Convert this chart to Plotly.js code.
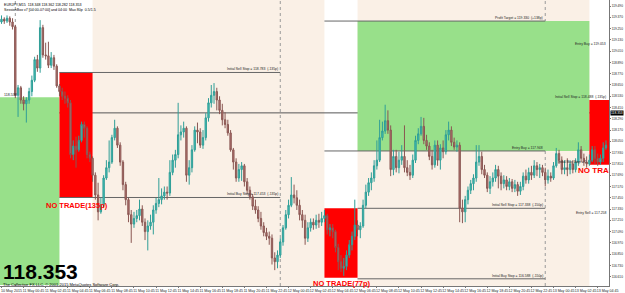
<!DOCTYPE html>
<html><head><meta charset="utf-8">
<script src="https://cdn.plot.ly/plotly-3.0.1.min.js"></script>
<style>html,body{margin:0;padding:0;background:#fff}#c{width:625px;height:293px}</style>
</head><body><div id="c"></div>
<script>
// EURJPY M15 bars, 10 May 22:45 -> 13 May 05:30 (bar index 0..219)
const open = [
119.32,119.35,119.33,119.36,119.32,119.27,118.54,118.62,118.49,118.45,
118.49,118.58,118.70,118.92,118.83,119.26,118.97,118.96,118.86,118.94,
118.85,118.64,118.58,118.53,118.51,118.46,117.91,118.00,117.96,118.06,
118.23,118.19,117.91,117.87,117.69,117.48,117.30,117.37,117.66,117.77,
117.83,118.09,118.19,118.01,117.83,117.59,117.43,117.27,117.17,117.23,
117.26,117.33,117.19,117.09,117.15,117.19,117.32,117.39,117.43,117.47,
117.51,117.50,117.72,117.85,117.91,118.12,118.15,118.19,117.69,117.77,
117.96,118.17,118.15,118.01,118.09,118.30,118.46,118.54,118.58,118.49,
118.38,118.28,118.23,118.14,117.96,117.83,117.66,117.75,117.79,117.62,
117.53,117.46,117.36,117.32,117.23,117.15,117.08,117.04,117.02,116.81,
116.77,116.84,116.98,117.13,117.27,117.37,117.48,117.45,117.37,117.27,
117.21,117.02,117.13,117.19,117.16,117.21,117.19,117.23,117.26,117.11,
117.13,117.09,116.92,116.77,116.70,116.72,116.84,116.95,117.04,117.16,
117.11,117.15,117.37,117.51,117.61,117.66,117.79,117.85,118.09,118.16,
118.27,118.17,117.75,117.89,117.77,117.85,117.89,117.77,117.72,117.69,
117.85,118.06,118.13,118.21,118.06,118.00,117.89,117.80,118.01,117.85,
117.98,117.94,118.12,118.17,118.04,117.99,118.01,117.34,117.30,117.43,
117.53,117.60,117.66,117.83,117.89,117.75,117.69,117.55,117.62,117.66,
117.75,117.68,117.60,117.64,117.57,117.62,117.55,117.59,117.52,117.57,
117.68,117.64,117.72,117.69,117.79,117.75,117.77,117.72,117.64,117.68,
117.66,117.79,117.92,117.85,117.75,117.77,117.75,117.81,117.75,117.83,
117.96,117.87,117.83,117.81,117.85,117.96,117.87,117.83,117.87,117.98];
const high = [
119.39,119.37,119.39,119.38,119.36,119.29,118.65,118.64,118.53,118.52,
118.62,118.75,118.95,118.97,119.34,119.29,119.10,119.11,119.00,118.97,
118.87,118.66,118.62,118.58,118.54,118.49,118.06,118.10,118.11,118.26,
118.26,118.21,117.94,117.89,117.72,117.61,117.45,117.69,117.85,118.06,
118.12,118.28,118.21,118.04,117.85,117.62,117.45,117.32,117.30,117.32,
117.43,117.37,117.23,117.21,117.27,117.37,117.45,117.66,117.55,117.57,
117.57,117.85,117.91,117.96,118.46,118.22,118.26,118.21,117.85,118.01,
118.21,118.25,118.19,118.17,118.35,118.51,118.65,118.67,118.62,118.53,
118.45,118.36,118.28,118.17,117.98,117.87,117.81,117.83,117.81,117.66,
117.57,117.49,117.43,117.36,117.30,117.19,117.13,117.09,117.06,116.87,
116.89,117.02,117.16,117.32,117.43,117.67,117.59,117.53,117.43,117.32,
117.27,117.19,117.23,117.23,117.27,117.28,117.30,117.32,117.28,117.17,
117.17,117.11,116.96,116.84,116.81,116.89,117.00,117.09,117.43,117.21,
117.19,117.43,117.59,117.66,117.72,117.85,118.06,118.28,118.26,118.44,
118.38,118.22,117.96,117.96,117.94,118.01,118.22,117.85,117.80,117.91,
118.11,118.19,118.31,118.30,118.12,118.04,117.96,118.06,118.06,118.02,
118.06,118.17,118.26,118.21,118.09,118.06,118.04,117.43,117.47,117.57,
117.64,117.70,118.01,118.01,117.94,117.80,117.72,117.68,117.72,117.80,
117.79,117.72,117.69,117.68,117.66,117.65,117.64,117.62,117.62,117.72,
117.75,117.77,117.79,117.85,117.83,117.81,117.80,117.77,117.75,117.72,
117.83,117.98,117.96,117.89,117.85,117.87,117.85,117.85,117.87,118.04,
118.00,117.92,117.89,117.91,118.00,118.00,117.92,117.91,118.04,118.06];
const low = [
119.30,119.30,119.31,119.28,119.24,118.51,118.31,118.45,118.38,118.25,
118.45,118.53,118.68,118.79,118.78,118.94,118.92,118.83,118.83,118.81,
118.62,118.53,118.49,118.45,118.41,117.87,117.85,117.77,117.94,118.04,
118.09,117.87,117.83,117.62,117.43,117.21,117.28,117.34,117.64,117.72,
117.81,118.06,117.98,117.79,117.53,117.37,117.19,116.97,117.13,117.19,
117.21,117.15,117.00,116.89,117.11,117.06,117.28,117.35,117.38,117.43,
117.43,117.47,117.69,117.77,117.87,118.06,118.09,117.62,117.59,117.72,
117.94,118.03,117.98,117.97,118.06,118.26,118.41,118.45,118.38,118.34,
118.22,118.19,118.11,117.94,117.75,117.62,117.62,117.63,117.57,117.49,
117.43,117.32,117.28,117.19,117.11,117.04,117.00,116.95,116.74,116.68,
116.70,116.81,116.94,117.11,117.23,117.35,117.39,117.32,117.21,117.13,
116.95,116.98,117.09,117.11,117.12,117.13,117.15,117.19,117.06,117.04,
117.02,116.87,116.68,116.66,116.62,116.68,116.81,116.89,117.00,117.04,
117.02,117.13,117.34,117.47,117.53,117.62,117.75,117.83,118.06,118.13,
118.13,117.68,117.69,117.72,117.71,117.80,117.72,117.68,117.64,117.66,
117.82,118.02,118.11,118.02,117.96,117.85,117.75,117.77,117.79,117.75,
117.87,117.91,118.06,118.00,117.96,117.94,117.19,117.18,117.19,117.38,
117.49,117.53,117.62,117.79,117.70,117.66,117.51,117.49,117.57,117.62,
117.55,117.53,117.55,117.53,117.53,117.51,117.51,117.47,117.48,117.53,
117.60,117.60,117.64,117.66,117.68,117.66,117.68,117.57,117.60,117.62,
117.64,117.77,117.81,117.70,117.70,117.68,117.70,117.71,117.72,117.79,
117.83,117.79,117.77,117.79,117.83,117.81,117.79,117.80,117.83,117.96];
const close = [
119.35,119.33,119.36,119.32,119.27,118.54,118.62,118.49,118.45,118.49,
118.58,118.70,118.92,118.83,119.26,118.97,118.96,118.86,118.94,118.85,
118.64,118.58,118.53,118.51,118.46,117.91,118.00,117.96,118.06,118.23,
118.19,117.91,117.87,117.69,117.48,117.30,117.37,117.66,117.77,117.83,
118.09,118.19,118.01,117.83,117.59,117.43,117.27,117.17,117.23,117.26,
117.33,117.19,117.09,117.15,117.19,117.32,117.39,117.43,117.47,117.51,
117.50,117.72,117.85,117.91,118.12,118.15,118.19,117.69,117.77,117.96,
118.17,118.15,118.01,118.09,118.30,118.46,118.54,118.58,118.49,118.38,
118.28,118.23,118.14,117.96,117.83,117.66,117.75,117.79,117.62,117.53,
117.46,117.36,117.32,117.23,117.15,117.08,117.04,117.02,116.81,116.77,
116.84,116.98,117.13,117.27,117.37,117.48,117.45,117.37,117.27,117.21,
117.02,117.13,117.19,117.16,117.21,117.19,117.23,117.26,117.11,117.13,
117.09,116.92,116.77,116.70,116.72,116.84,116.95,117.04,117.16,117.11,
117.15,117.37,117.51,117.61,117.66,117.79,117.85,118.09,118.16,118.27,
118.17,117.75,117.89,117.77,117.85,117.89,117.77,117.72,117.69,117.85,
118.06,118.13,118.21,118.06,118.00,117.89,117.80,118.01,117.85,117.98,
117.94,118.12,118.17,118.04,117.99,118.01,117.34,117.30,117.43,117.53,
117.60,117.66,117.83,117.89,117.75,117.69,117.55,117.62,117.66,117.75,
117.68,117.60,117.64,117.57,117.62,117.55,117.59,117.52,117.57,117.68,
117.64,117.72,117.69,117.79,117.75,117.77,117.72,117.64,117.68,117.66,
117.79,117.92,117.85,117.75,117.77,117.75,117.81,117.75,117.83,117.96,
117.87,117.83,117.81,117.85,117.96,117.87,117.83,117.87,117.98,118.01];

// time-axis labels (bar index -> text)
const timeTickIdx = [0,8,16,24,32,40,48,56,64,72,80,88,96,104,112,120,128,136,144,152,160,168,176,184,192,200,208,216];
const timeTickText = ["10 May 2015","11 May 00:45","11 May 02:45","11 May 04:45","11 May 06:45","11 May 08:45","11 May 10:45",
 "11 May 12:45","11 May 14:45","11 May 16:45","11 May 18:45","11 May 20:45","11 May 22:45","12 May 00:45","12 May 02:45",
 "12 May 04:45","12 May 06:45","12 May 08:45","12 May 10:45","12 May 12:45","12 May 14:45","12 May 16:45","12 May 18:45",
 "12 May 20:45","12 May 22:45","13 May 00:45","13 May 02:45","13 May 04:45"];
const priceTicks = [116.49,116.61,116.73,116.85,116.97,117.09,117.21,117.33,117.45,117.57,117.69,117.81,117.93,
 118.05,118.17,118.29,118.41,118.53,118.65,118.77,118.89,119.01,119.13,119.25,119.37,119.49];

// day separators and session boxes (bar index)
const daySeparators = [5,101,197];
const sessions = [[33,117],[129,213]];
const bidPrice = 118.353;
// range / trade levels
const box1 = {x:[21,33], y:[117.453,118.783]};
const box2 = {x:[117,129], y:[116.600,117.338]};
const box3 = {x:[213,222], y:[117.800,118.490]};
const greenLeft = {x:[-2,21], y:[116.522,118.520]};
const greenMid = {x:[129,213], y:[117.948,119.330]};
const levelLines = [
  {y:118.783, x:[21,101], text:"Initial Sell Stop = 118.783  (-135p)"},
  {y:117.453, x:[21,101], text:"Initial Buy Stop = 117.453  (-135p)"},
  {y:119.330, x:[117,197], text:"Profit Target = 119.330  (+138p)"},
  {y:117.948, x:[117,197], text:"Entry Buy = 117.948"},
  {y:117.338, x:[129,197], text:"Initial Sell Stop = 117.338  (-150p)"},
  {y:116.588, x:[129,197], text:"Initial Buy Stop = 116.588  (-150p)"}
];
const rightLabels = [
  {y:119.054, text:"Entry Buy = 119.053"},
  {y:118.490, text:"Initial Sell Stop = 118.488  (-135p)"},
  {y:117.256, text:"Entry Sell = 117.258"}
];

const shapes = [];
sessions.forEach(s=>shapes.push({type:'rect',xref:'x',yref:'paper',x0:s[0],x1:s[1],y0:0,y1:1,fillcolor:'#FAF0E6',line:{width:0},layer:'below'}));
[greenLeft,greenMid].forEach(b=>shapes.push({type:'rect',xref:'x',yref:'y',x0:b.x[0],x1:b.x[1],y0:b.y[0],y1:b.y[1],fillcolor:'#98E08A',line:{width:0},layer:'below'}));
[box1,box2,box3].forEach(b=>shapes.push({type:'rect',xref:'x',yref:'y',x0:b.x[0],x1:b.x[1],y0:b.y[0],y1:b.y[1],fillcolor:'#FF0000',line:{width:0},layer:'below'}));
daySeparators.forEach(d=>shapes.push({type:'line',xref:'x',yref:'paper',x0:d,x1:d,y0:0,y1:1,line:{color:'#9a9a9a',width:1,dash:'dot'},layer:'below'}));
levelLines.forEach(l=>shapes.push({type:'line',xref:'x',yref:'y',x0:l.x[0],x1:l.x[1],y0:l.y,y1:l.y,line:{color:'#666',width:1},layer:'below'}));
shapes.push({type:'line',xref:'paper',yref:'y',x0:0,x1:1,y0:bidPrice,y1:bidPrice,line:{color:'#555',width:1},layer:'below'});

const F = 'Liberation Sans, Arial, sans-serif';
const ann = [];
levelLines.forEach(l=>ann.push({x:l.x[1],y:l.y,xref:'x',yref:'y',text:l.text,showarrow:false,xanchor:'right',yanchor:'bottom',yshift:-1,font:{family:F,size:3.4,color:'#222'}}));
rightLabels.forEach(l=>ann.push({x:219.6,y:l.y,xref:'x',yref:'y',text:l.text,showarrow:false,xanchor:'right',yanchor:'bottom',yshift:-1,font:{family:F,size:3.4,color:'#222'}}));
ann.push({x:212.5,y:117.80,xref:'x',yref:'y',text:'Initial Buy Stop = 1',showarrow:false,xanchor:'right',yanchor:'bottom',yshift:-1,font:{family:F,size:3.4,color:'#222'}});
ann.push({x:0,y:118.54,xref:'x',yref:'y',text:'118.538',showarrow:false,xanchor:'left',yanchor:'middle',font:{family:F,size:3.6,color:'#222'}});
ann.push({x:27.2,y:117.37,xref:'x',yref:'y',text:'NO TRADE(135p)',showarrow:false,xanchor:'center',yanchor:'middle',font:{family:F,size:7.5,color:'#FF0000',weight:700}});
ann.push({x:123.4,y:116.54,xref:'x',yref:'y',text:'NO TRADE(77p)',showarrow:false,xanchor:'center',yanchor:'middle',font:{family:F,size:7.5,color:'#FF0000',weight:700}});
ann.push({x:0,y:116.67,xref:'paper',yref:'y',xshift:1,text:'118.353',showarrow:false,xanchor:'left',yanchor:'middle',font:{family:F,size:21,color:'#000',weight:700}});
ann.push({x:0,y:116.528,xref:'paper',yref:'y',xshift:1,text:'The Collective FX LLC, © 2001-2015 MetaQuotes Software Corp.',showarrow:false,xanchor:'left',yanchor:'middle',font:{family:F,size:4,color:'#000'}});
ann.push({x:0,y:1,xref:'paper',yref:'paper',xshift:2,yshift:-1,text:'EURJPY,M15  118.348 118.362 118.282 118.353<br>SessionBox v7 [04:00-07:00] and 04:00  Max 80p  0.5/1.5',showarrow:false,xanchor:'left',yanchor:'top',align:'left',font:{family:F,size:3.6,color:'#000'}});
ann.push({x:1,y:bidPrice,xref:'paper',yref:'y',text:'118.353',showarrow:false,xanchor:'left',yanchor:'middle',xshift:1,bgcolor:'#000',borderpad:0,font:{family:F,size:3.3,color:'#fff'}});

const idx = open.map((_,i)=>i);
const traces = [{
  type:'candlestick', x:idx, open:open, high:high, low:low, close:close,
  increasing:{line:{color:'#2f9e97',width:1},fillcolor:'#45C3BB'},
  decreasing:{line:{color:'#8a5753',width:1},fillcolor:'#B57470'},
  whiskerwidth:0, hoverinfo:'skip', showlegend:false
},{
  type:'scatter', mode:'text', x:[208.9], y:[117.74], text:['NO TRAD'], textposition:'middle right',
  textfont:{family:F,size:8,color:'#FF0000',weight:700}, cliponaxis:true, hoverinfo:'skip', showlegend:false
}];

const layout = {
  width:625, height:293, margin:{l:0,r:16,t:0,b:7,pad:0},
  paper_bgcolor:'#fff', plot_bgcolor:'#fff', showlegend:false,
  xaxis:{range:[-0.5435,220.1], rangeslider:{visible:false}, showgrid:false, zeroline:false,
    showline:true, linecolor:'#777', linewidth:1, ticks:'outside', ticklen:1, tickcolor:'#777',
    tickvals:timeTickIdx, ticktext:timeTickText, tickfont:{family:F,size:3.6,color:'#222'},
    ticklabelshift:10, ticklabelstandoff:0, tickangle:0, fixedrange:true},
  yaxis:{range:[116.5114,119.554], side:'right', showgrid:false, zeroline:false,
    showline:true, linecolor:'#777', linewidth:1, ticks:'outside', ticklen:1, tickcolor:'#777',
    tickvals:priceTicks, ticktext:priceTicks.map(v=>v.toFixed(3)), tickfont:{family:F,size:3.2,color:'#222'},
    ticklabelstandoff:0, fixedrange:true},
  shapes:shapes, annotations:ann
};
Plotly.newPlot('c', traces, layout, {displayModeBar:false, staticPlot:true});
</script></body></html>
